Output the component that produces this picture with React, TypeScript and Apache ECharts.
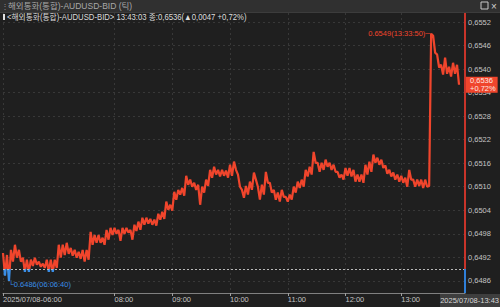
import React, { useEffect, useRef } from 'react';
import * as echarts from 'echarts';

// Tick prices (AUDUSD bid), grouped by the hour label that opens each block
const ticks06 = [
  0.64931, 0.64873, 0.64926, 0.6486, 0.64939, 0.64909, 0.64952, 0.64919, 0.64939, 0.64909,
  0.64919, 0.64883, 0.64914, 0.64883, 0.64914, 0.64898, 0.64919, 0.64901, 0.64909, 0.64896,
  0.64904, 0.64893, 0.64914, 0.64883, 0.64914, 0.64883, 0.64914, 0.64893, 0.64952, 0.64919,
  0.64952, 0.64926, 0.64957, 0.64929, 0.64944, 0.64924, 0.64939, 0.64919, 0.64934, 0.64916,
  0.64939, 0.64909, 0.64939, 0.64914, 0.64985, 0.64952, 0.64977, 0.64957, 0.64977, 0.64957,
  0.6497, 0.64952, 0.6499, 0.64965, 0.64995, 0.64977,
];
const ticks08 = [
  0.64995, 0.6498, 0.6499, 0.64962, 0.64995, 0.6498, 0.64995, 0.64983, 0.6499, 0.64965,
  0.65003, 0.64987, 0.65011, 0.6499, 0.65021, 0.65003, 0.65021, 0.65006, 0.65018, 0.65003,
  0.65016, 0.65001, 0.65031, 0.65016, 0.65036, 0.65018, 0.65062, 0.65041, 0.65054,
];
const ticks09 = [
  0.65039, 0.65087, 0.65067, 0.65092, 0.6508, 0.65097, 0.65077, 0.65128, 0.65105, 0.65118,
  0.651, 0.6511, 0.65092, 0.65105, 0.65054, 0.651, 0.65085, 0.65118, 0.65102, 0.65143,
  0.65123, 0.65151, 0.65131, 0.65143, 0.65126, 0.65143, 0.65128, 0.65141, 0.65123,
];
const ticks10 = [
  0.65156, 0.65128, 0.65164, 0.65143, 0.65131, 0.651, 0.65092, 0.65072, 0.65102, 0.6508,
  0.65113, 0.65092, 0.65136, 0.65118, 0.651, 0.65067, 0.65105, 0.6508, 0.65138, 0.6511,
  0.6511, 0.65085, 0.65092, 0.65067, 0.65085, 0.65062, 0.65092, 0.65074, 0.65074,
];
const ticks11 = [
  0.65062, 0.6508, 0.65067, 0.651, 0.65085, 0.65113, 0.65097, 0.65118, 0.651, 0.65143,
  0.65126, 0.65151, 0.65131, 0.65189, 0.65161, 0.65161, 0.65138, 0.65161, 0.65143, 0.65169,
  0.65151, 0.65161, 0.65143, 0.65156, 0.65138, 0.65138, 0.65123, 0.65131, 0.65118,
];
const ticks12 = [
  0.65148, 0.65128, 0.65148, 0.65126, 0.65143, 0.65113, 0.65131, 0.65113, 0.65131, 0.6511,
  0.65156, 0.65131, 0.65164, 0.65138, 0.65182, 0.65161, 0.65174, 0.65156, 0.65169, 0.65148,
  0.65154, 0.65133, 0.65143, 0.65126, 0.65136, 0.65118, 0.65131, 0.65113,
];
const ticks13 = [
  0.65128, 0.6511, 0.65123, 0.651, 0.65143, 0.65118, 0.65118, 0.651, 0.65118, 0.65102,
  0.65118, 0.65097, 0.65118, 0.651, 0.65102, 0.6549, 0.65485, 0.65442, 0.65437, 0.65404,
  0.65411, 0.65386, 0.65429, 0.65388, 0.65406, 0.65381, 0.65416, 0.65388, 0.65411, 0.6536,
];

const hourLabels = ['2025/07/08-06:00', '08:00', '09:00', '10:00', '11:00', '12:00', '13:00'];
const endTimeLabel = '2025/07/08-13:43';
const yTicks = [0.6486, 0.6492, 0.6498, 0.6504, 0.651, 0.6516, 0.6522, 0.6528, 0.6534, 0.654, 0.6546, 0.6552];
const yMin = 0.64829;
const yMax = 0.65543;
const prevClose = 0.6489;
const lastPrice = 0.6536;
const changePct = '+0,72%';
const highPoint = { value: 0.6549, time: '13:33:50' };
const lowPoint = { value: 0.6486, time: '06:06:40' };
const padTicks = 3;
const titleText = '해외통화(통합)-AUDUSD-BID (틱)';
const infoText = '<해외통화(통합)-AUDUSD-BID> 13:43:03 종:0,6536(▲0,0047 +0,72%)';

const RED = '#f0452c';
const BLUE = '#3a8ee6';
const FONT = "'Liberation Sans', 'Noto Sans CJK KR', sans-serif";
const HFONT = "'Liberation Sans', 'Noto Sans CJK KR', sans-serif";
const FS = 7.5;

const fmt = (v: number) => v.toFixed(4).replace('.', ',');

export default function App() {
  const ref = useRef<HTMLDivElement>(null);
  useEffect(() => {
    if (!ref.current) return;
    const chart = echarts.init(ref.current, undefined, { renderer: 'svg' });
    const segments = [ticks06, ticks08, ticks09, ticks10, ticks11, ticks12, ticks13];
    const prices = segments.flat();
    const labelAt = new Map<number, string>();
    let acc = 0;
    segments.forEach((s, k) => {
      labelAt.set(acc, hourLabels[k]);
      acc += s.length;
    });
    const total = prices.length + padTicks;
    const cats = Array.from({ length: total }, (_, i) => String(i));
    const lastCat = cats[total - 1];
    const hiIdx = prices.indexOf(highPoint.value);
    const loIdx = prices.indexOf(lowPoint.value);

    chart.setOption({
      animation: false,
      backgroundColor: '#1f1f1f',
      textStyle: { fontFamily: FONT },
      grid: { left: 1, right: 35, top: 13, bottom: 14 },
      xAxis: {
        type: 'category',
        data: cats,
        boundaryGap: false,
        axisLine: { lineStyle: { color: '#808080', width: 1 } },
        axisTick: {
          show: true,
          length: 3,
          lineStyle: { color: '#a0a0a0' },
        },
        axisLabel: {
          interval: (i: number) => labelAt.has(i),
          formatter: (_v: string, i: number) => labelAt.get(i) ?? '',
          align: 'left',
          color: '#c4c4c4',
          fontSize: FS,
          margin: 3,
          fontFamily: FONT,
        },
        splitLine: {
          show: true,
          lineStyle: { color: '#383838', type: [2, 3] },
        },
      },
      yAxis: {
        type: 'value',
        position: 'right',
        min: yMin,
        max: yMax,
        axisLine: { show: false },
        axisTick: { show: false },
        axisLabel: { show: false },
        splitLine: { show: false },
      },
      visualMap: {
        type: 'piecewise',
        show: false,
        seriesIndex: 0,
        dimension: 1,
        pieces: [
          { gt: 0, lt: prevClose, color: BLUE },
          { gte: prevClose, lt: 1, color: RED },
        ],
      },
      series: [
        {
          type: 'line',
          data: prices,
          z: 3,
          showSymbol: false,
          lineStyle: { width: 2.2 },
          markLine: {
            silent: true,
            precision: 5,
            z: 1,
            symbol: ['none', 'none'],
            lineStyle: { color: '#383838', type: [2, 3], width: 1 },
            label: {
              show: true,
              position: 'end',
              distance: 3,
              formatter: (p: any) => fmt(p.value),
              color: '#c4c4c4',
              fontSize: FS,
              fontFamily: FONT,
            },
            data: yTicks.map((v) => ({ yAxis: v })),
          },
          markPoint: {
            symbol: 'circle',
            symbolSize: 1,
            itemStyle: { color: 'rgba(0,0,0,0)' },
            data: [
              {
                coord: [cats[hiIdx], highPoint.value],
                label: {
                  show: true,
                  position: 'left',
                  distance: 0,
                  formatter: `${highPoint.value.toFixed(4)}(${highPoint.time})─`,
                  color: RED,
                  fontSize: FS,
                  fontFamily: FONT,
                },
              },
              {
                coord: [cats[loIdx], lowPoint.value],
                label: {
                  show: true,
                  position: [0, 0],
                  align: 'left',
                  verticalAlign: 'top',
                  formatter: `└${lowPoint.value.toFixed(4)}(${lowPoint.time})`,
                  color: BLUE,
                  fontSize: FS,
                  fontFamily: FONT,
                },
              },
            ],
          },
        },
        {
          type: 'line',
          data: [[lastCat, yMax], [lastCat, prevClose]],
          z: 5,
          silent: true,
          showSymbol: false,
          lineStyle: { color: '#c8342a', width: 2 },
          markLine: {
            silent: true,
            precision: 5,
            symbol: ['none', 'none'],
            label: { show: false },
            lineStyle: { color: '#b8b8b8', type: [2, 2], width: 1 },
            data: [{ yAxis: prevClose }],
          },
        },
        {
          type: 'line',
          data: [[lastCat, prevClose], [lastCat, yMin]],
          z: 5,
          silent: true,
          showSymbol: false,
          lineStyle: { color: '#2f7fd8', width: 2 },
        },
        {
          type: 'line',
          data: [[lastCat, lastPrice]],
          z: 10,
          silent: true,
          showSymbol: false,
          markLine: {
            silent: true,
            precision: 5,
            z: 10,
            symbol: ['none', 'none'],
            lineStyle: { color: 'rgba(0,0,0,0)', width: 0 },
            label: {
              show: true,
              position: 'end',
              distance: 1,
              formatter: `${fmt(lastPrice)}\n${changePct}`,
              backgroundColor: RED,
              color: '#ffe8e0',
              fontSize: FS,
              lineHeight: 8,
              padding: [0, 2, 0, 4],
              fontFamily: FONT,
            },
            data: [{ yAxis: lastPrice }],
          },
        },
      ],
      graphic: [
        { type: 'rect', z: 20, shape: { x: 0, y: 0, width: 500, height: 12 }, style: { fill: '#303030' } },
        { type: 'rect', z: 20, shape: { x: 0, y: 12, width: 500, height: 1 }, style: { fill: '#3c3c3c' } },
        { type: 'text', z: 21, x: 1, y: 6, style: { text: '⋮', fill: '#8a8a8a', fontSize: 8, fontFamily: HFONT, verticalAlign: 'middle' } },
        { type: 'text', z: 21, x: 8, y: 6, style: { text: titleText, fill: '#a8a8a8', fontSize: 8.5, fontFamily: HFONT, verticalAlign: 'middle' } },
        { type: 'rect', z: 21, shape: { x: 481, y: 2, width: 7, height: 7 }, style: { fill: 'none', stroke: '#c8c8c8', lineWidth: 1 } },
        { type: 'text', z: 21, x: 491, y: 6, style: { text: '×', fill: '#d0d0d0', fontSize: 10, fontFamily: HFONT, verticalAlign: 'middle' } },
        { type: 'rect', z: 21, shape: { x: 3, y: 14, width: 2, height: 6 }, style: { fill: '#e0e0e0' } },
        { type: 'text', z: 21, x: 7, y: 17.5, scaleX: 0.91, style: { text: infoText, fill: '#dcdcdc', fontSize: 8.5, fontFamily: HFONT, verticalAlign: 'middle' } },
        { type: 'rect', z: 21, shape: { x: 440, y: 294, width: 60, height: 13 }, style: { fill: '#3e3e3e' } },
        { type: 'text', z: 22, x: 499, y: 300.5, style: { text: endTimeLabel, fill: '#d8d8d8', fontSize: FS, fontFamily: FONT, align: 'right', verticalAlign: 'middle' } },
      ],
    });
    return () => chart.dispose();
  }, []);
  return <div ref={ref} style={{ position: 'fixed', left: 0, top: 0, width: 500, height: 307 }} />;
}
